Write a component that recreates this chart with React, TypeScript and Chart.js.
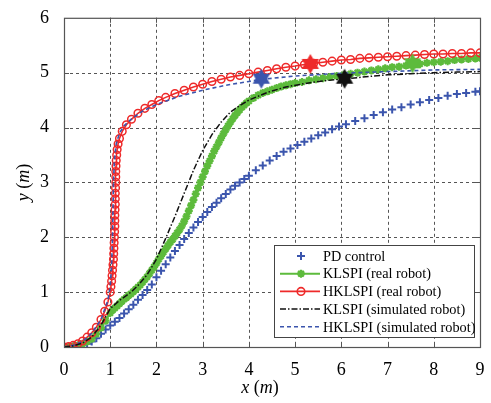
import React, { useEffect, useRef } from "react";
import { Chart, registerables } from "chart.js";
Chart.register(...registerables);

const FONT = "'Liberation Serif', 'Times New Roman', serif";
const X_TICKS = [0, 1, 2, 3, 4, 5, 6, 7, 8, 9];
const Y_TICKS = [0, 1, 2, 3, 4, 5, 6];

const LEGEND_LABELS = [
  "PD control",
  "KLSPI (real robot)",
  "HKLSPI (real robot)",
  "KLSPI (simulated robot)",
  "HKLSPI (simulated robot)",
];

const BLUE = "#3b55ad";
const GREEN = "#5dbb3c";
const RED = "#ee2a2a";
const BLACK = "#111111";

// PD control (blue +, no line)
const PD_X = [0, 0.1, 0.2, 0.3, 0.4, 0.5, 0.6, 0.7, 0.8, 0.9, 1.0, 1.1, 1.2, 1.3, 1.4, 1.5, 1.6, 1.7, 1.8, 1.9, 2.0, 2.1, 2.2, 2.3, 2.4, 2.5, 2.6, 2.7, 2.8, 2.9, 3.0, 3.1, 3.2, 3.3, 3.4, 3.5, 3.6, 3.7, 3.8, 3.9, 4.0, 4.15, 4.3, 4.45, 4.6, 4.75, 4.9, 5.05, 5.2, 5.35, 5.5, 5.65, 5.8, 5.95, 6.1, 6.3, 6.5, 6.7, 6.9, 7.1, 7.3, 7.5, 7.7, 7.9, 8.1, 8.3, 8.5, 8.7, 8.9, 9.0];
const PD_Y = [0, 0.0, 0.01, 0.02, 0.04, 0.06, 0.1, 0.16, 0.24, 0.32, 0.39, 0.46, 0.53, 0.61, 0.69, 0.77, 0.86, 0.95, 1.04, 1.14, 1.27, 1.39, 1.51, 1.63, 1.75, 1.86, 1.97, 2.08, 2.18, 2.28, 2.37, 2.46, 2.55, 2.63, 2.71, 2.79, 2.87, 2.94, 3.0, 3.06, 3.12, 3.22, 3.31, 3.4, 3.48, 3.56, 3.62, 3.68, 3.74, 3.8, 3.86, 3.91, 3.97, 4.02, 4.06, 4.12, 4.17, 4.23, 4.28, 4.33, 4.37, 4.42, 4.46, 4.5, 4.54, 4.58, 4.61, 4.63, 4.65, 4.66];

// KLSPI real robot (green)
const KR_X = [0, 0.1, 0.2, 0.3, 0.4, 0.5, 0.6, 0.7, 0.8, 0.9, 1.0, 1.05, 1.1, 1.15, 1.2, 1.25, 1.3, 1.35, 1.4, 1.45, 1.5, 1.55, 1.6, 1.65, 1.7, 1.75, 1.8, 1.85, 1.9, 1.95, 2.0, 2.05, 2.1, 2.15, 2.2, 2.25, 2.3, 2.35, 2.4, 2.45, 2.5, 2.55, 2.6, 2.65, 2.7, 2.75, 2.8, 2.85, 2.9, 2.95, 3.0, 3.05, 3.1, 3.15, 3.2, 3.25, 3.3, 3.35, 3.4, 3.45, 3.5, 3.55, 3.6, 3.65, 3.7, 3.75, 3.8, 3.85, 3.9, 3.95, 4.0, 4.1, 4.2, 4.3, 4.4, 4.5, 4.6, 4.7, 4.8, 4.9, 5.0, 5.15, 5.3, 5.45, 5.6, 5.75, 5.9, 6.05, 6.2, 6.35, 6.5, 6.65, 6.8, 6.95, 7.1, 7.25, 7.4, 7.55, 7.7, 7.85, 8.0, 8.15, 8.3, 8.45, 8.6, 8.75, 8.9, 9.0];
const KR_Y = [0, 0.0, 0.01, 0.03, 0.06, 0.1, 0.15, 0.24, 0.35, 0.48, 0.62, 0.67, 0.71, 0.75, 0.79, 0.83, 0.87, 0.9, 0.94, 0.97, 1.01, 1.05, 1.09, 1.13, 1.18, 1.23, 1.28, 1.34, 1.4, 1.46, 1.53, 1.6, 1.66, 1.73, 1.79, 1.85, 1.91, 1.96, 2.02, 2.08, 2.14, 2.21, 2.29, 2.38, 2.48, 2.58, 2.68, 2.79, 2.9, 3.0, 3.1, 3.2, 3.3, 3.39, 3.48, 3.57, 3.65, 3.73, 3.81, 3.89, 3.96, 4.03, 4.1, 4.16, 4.22, 4.27, 4.32, 4.37, 4.41, 4.45, 4.48, 4.54, 4.59, 4.63, 4.66, 4.69, 4.72, 4.75, 4.77, 4.79, 4.81, 4.83, 4.86, 4.88, 4.9, 4.92, 4.94, 4.96, 4.98, 5.0, 5.02, 5.04, 5.06, 5.08, 5.1, 5.11, 5.13, 5.15, 5.16, 5.18, 5.19, 5.2, 5.21, 5.23, 5.24, 5.25, 5.26, 5.27];

// HKLSPI real robot (red circles)
const HR_X = [0, 0.1, 0.2, 0.3, 0.4, 0.5, 0.6, 0.7, 0.8, 0.88, 0.95, 1.0, 1.015, 1.03, 1.04, 1.05, 1.06, 1.07, 1.075, 1.08, 1.085, 1.09, 1.095, 1.1, 1.1, 1.1, 1.105, 1.11, 1.11, 1.11, 1.115, 1.12, 1.12, 1.12, 1.125, 1.13, 1.14, 1.15, 1.17, 1.2, 1.26, 1.35, 1.46, 1.6, 1.75, 1.9, 2.05, 2.2, 2.4, 2.6, 2.8, 3.0, 3.2, 3.4, 3.6, 3.8, 4.0, 4.2, 4.4, 4.6, 4.8, 5.0, 5.2, 5.4, 5.6, 5.8, 6.0, 6.2, 6.4, 6.6, 6.8, 7.0, 7.2, 7.4, 7.6, 7.8, 8.0, 8.2, 8.4, 8.6, 8.8, 9.0];
const HR_Y = [0, 0.01, 0.03, 0.06, 0.11, 0.18, 0.26, 0.36, 0.5, 0.65, 0.82, 1.0, 1.1, 1.2, 1.3, 1.4, 1.5, 1.6, 1.7, 1.8, 1.9, 2.0, 2.1, 2.2, 2.3, 2.4, 2.5, 2.6, 2.7, 2.8, 2.9, 3.0, 3.1, 3.2, 3.3, 3.4, 3.5, 3.6, 3.7, 3.8, 3.93, 4.05, 4.15, 4.26, 4.35, 4.42, 4.49, 4.55, 4.62, 4.68, 4.74, 4.79, 4.84, 4.88, 4.92, 4.95, 4.98, 5.01, 5.04, 5.07, 5.1, 5.12, 5.15, 5.17, 5.19, 5.21, 5.23, 5.24, 5.26, 5.27, 5.28, 5.29, 5.3, 5.31, 5.32, 5.33, 5.34, 5.34, 5.35, 5.35, 5.36, 5.36];

// KLSPI simulated robot (black dash-dot)
const KS_X = [0, 0.2, 0.4, 0.6, 0.8, 1.0, 1.2, 1.45, 1.6, 1.8, 2.0, 2.2, 2.4, 2.6, 2.8, 3.0, 3.2, 3.4, 3.6, 3.8, 4.0, 4.4, 4.8, 5.2, 5.6, 6.1, 6.6, 7.0, 7.5, 8.0, 8.5, 9.0];
const KS_Y = [0, 0.02, 0.07, 0.18, 0.4, 0.7, 0.85, 1.0, 1.12, 1.32, 1.6, 1.98, 2.38, 2.8, 3.22, 3.58, 3.87, 4.1, 4.28, 4.4, 4.5, 4.64, 4.74, 4.8, 4.85, 4.89, 4.93, 4.96, 4.98, 5.0, 5.01, 5.02];

// HKLSPI simulated robot (blue dashed)
const HS_X = [0, 0.2, 0.4, 0.6, 0.8, 0.95, 1.0, 1.03, 1.05, 1.06, 1.07, 1.09, 1.13, 1.2, 1.3, 1.45, 1.7, 2.0, 2.5, 3.0, 3.5, 4.0, 4.3, 5.0, 6.0, 7.0, 8.0, 9.0];
const HS_Y = [0, 0.03, 0.1, 0.25, 0.5, 0.85, 1.1, 1.5, 2.0, 2.5, 3.0, 3.4, 3.7, 3.9, 4.03, 4.15, 4.3, 4.42, 4.57, 4.68, 4.77, 4.84, 4.88, 4.94, 4.99, 5.02, 5.05, 5.06];

// Hexagram star markers
const STAR_X = [4.27, 5.33, 6.07, 7.54];
const STAR_Y = [4.89, 5.16, 4.89, 5.17];
const STAR_COLORS = [BLUE, RED, BLACK, GREEN];

const pts = (xs: number[], ys: number[]) => xs.map((x, i) => ({ x, y: ys[i] }));

function hexagram(color: string, r: number) {
  const c = document.createElement("canvas");
  const s = Math.ceil(r * 2 + 2);
  c.width = s;
  c.height = s;
  const g = c.getContext("2d")!;
  const cx = s / 2, cy = s / 2;
  g.fillStyle = color;
  for (const off of [-Math.PI / 2, Math.PI / 2]) {
    g.beginPath();
    for (let k = 0; k < 3; k++) {
      const a = off + (k * 2 * Math.PI) / 3;
      const px = cx + r * Math.cos(a), py = cy + r * Math.sin(a);
      if (k === 0) g.moveTo(px, py); else g.lineTo(px, py);
    }
    g.closePath();
    g.fill();
  }
  return c;
}

function drawMarker(ctx: CanvasRenderingContext2D, kind: string, x: number, y: number, color: string) {
  ctx.save();
  ctx.setLineDash([]);
  ctx.strokeStyle = color;
  if (kind === "cross") {
    ctx.lineWidth = 2;
    ctx.beginPath();
    ctx.moveTo(x - 4, y); ctx.lineTo(x + 4, y);
    ctx.moveTo(x, y - 4); ctx.lineTo(x, y + 4);
    ctx.stroke();
  } else if (kind === "star") {
    ctx.lineWidth = 2.2;
    ctx.beginPath();
    for (let k = 0; k < 4; k++) {
      const a = (k * Math.PI) / 4;
      ctx.moveTo(x - 4 * Math.cos(a), y - 4 * Math.sin(a));
      ctx.lineTo(x + 4 * Math.cos(a), y + 4 * Math.sin(a));
    }
    ctx.stroke();
  } else if (kind === "circle") {
    ctx.lineWidth = 1.6;
    ctx.beginPath();
    ctx.arc(x, y, 3.8, 0, Math.PI * 2);
    ctx.stroke();
  }
  ctx.restore();
}

const LEGEND_STYLE = [
  { line: false, color: BLUE, dash: [] as number[], marker: "cross", width: 0 },
  { line: true, color: GREEN, dash: [] as number[], marker: "star", width: 2 },
  { line: true, color: RED, dash: [] as number[], marker: "circle", width: 1.6 },
  { line: true, color: BLACK, dash: [6, 2, 1.5, 2], marker: "", width: 1.5 },
  { line: true, color: BLUE, dash: [4, 3], marker: "", width: 1.5 },
];

const overlay = {
  id: "overlay",
  beforeDatasetsDraw(chart: any) {
    const { ctx, chartArea: a, scales } = chart;
    const xs = scales.x, ys = scales.y;
    ctx.save();
    ctx.strokeStyle = "#555";
    ctx.lineWidth = 1;
    ctx.setLineDash([3, 3]);
    for (const v of X_TICKS.slice(1, -1)) {
      const px = Math.round(xs.getPixelForValue(v)) + 0.5;
      ctx.beginPath(); ctx.moveTo(px, a.top); ctx.lineTo(px, a.bottom); ctx.stroke();
    }
    for (const v of Y_TICKS.slice(1, -1)) {
      const py = Math.round(ys.getPixelForValue(v)) + 0.5;
      ctx.beginPath(); ctx.moveTo(a.left, py); ctx.lineTo(a.right, py); ctx.stroke();
    }
    ctx.restore();
  },
  afterDatasetsDraw(chart: any) {
    const { ctx, chartArea: a } = chart;
    const left = a.right - 206, top = a.bottom - 102, w = 200, h = 92;
    ctx.save();
    ctx.fillStyle = "#fff";
    ctx.fillRect(left, top, w, h);
    ctx.strokeStyle = "#444";
    ctx.lineWidth = 1;
    ctx.setLineDash([]);
    ctx.strokeRect(left + 0.5, top + 0.5, w, h);
    ctx.font = `14.3px ${FONT}`;
    ctx.textBaseline = "middle";
    ctx.textAlign = "left";
    LEGEND_LABELS.forEach((label, i) => {
      const st = LEGEND_STYLE[i];
      const y = top + 11 + i * 17.7;
      if (st.line) {
        ctx.save();
        ctx.strokeStyle = st.color;
        ctx.lineWidth = st.width;
        ctx.setLineDash(st.dash);
        ctx.beginPath(); ctx.moveTo(left + 6, y); ctx.lineTo(left + 46, y); ctx.stroke();
        ctx.restore();
      }
      if (st.marker) drawMarker(ctx, st.marker, left + 27, y, st.color);
      ctx.fillStyle = "#000";
      ctx.fillText(label, left + 49, y + 1);
    });
    ctx.restore();
  },
  afterDraw(chart: any) {
    const { ctx, chartArea: a, scales } = chart;
    const xs = scales.x, ys = scales.y;
    ctx.save();
    ctx.setLineDash([]);
    ctx.strokeStyle = "#555";
    ctx.lineWidth = 1.2;
    ctx.strokeRect(a.left + 0.5, a.top + 0.5, a.right - a.left, a.bottom - a.top);
    ctx.lineWidth = 1;
    for (const v of X_TICKS.slice(1, -1)) {
      const px = Math.round(xs.getPixelForValue(v)) + 0.5;
      ctx.beginPath();
      ctx.moveTo(px, a.bottom); ctx.lineTo(px, a.bottom - 5);
      ctx.moveTo(px, a.top); ctx.lineTo(px, a.top + 5);
      ctx.stroke();
    }
    for (const v of Y_TICKS.slice(1, -1)) {
      const py = Math.round(ys.getPixelForValue(v)) + 0.5;
      ctx.beginPath();
      ctx.moveTo(a.left, py); ctx.lineTo(a.left + 5, py);
      ctx.moveTo(a.right, py); ctx.lineTo(a.right - 5, py);
      ctx.stroke();
    }
    // axis titles: italic variable, upright parentheses
    const parts = (v: string) => [
      { t: v, it: true },
      { t: " (", it: false },
      { t: "m", it: true },
      { t: ")", it: false },
    ];
    const drawTitle = (v: string, cx: number, cy: number, rot: number) => {
      ctx.save();
      ctx.translate(cx, cy);
      ctx.rotate(rot);
      ctx.fillStyle = "#000";
      ctx.textBaseline = "middle";
      ctx.textAlign = "left";
      const ps = parts(v);
      let total = 0;
      for (const p of ps) {
        ctx.font = `${p.it ? "italic " : ""}18px ${FONT}`;
        total += ctx.measureText(p.t).width;
      }
      let x = -total / 2;
      for (const p of ps) {
        ctx.font = `${p.it ? "italic " : ""}18px ${FONT}`;
        ctx.fillText(p.t, x, 0);
        x += ctx.measureText(p.t).width;
      }
      ctx.restore();
    };
    drawTitle("x", (a.left + a.right) / 2 - 12, 388, 0);
    drawTitle("y", 24, (a.top + a.bottom) / 2, -Math.PI / 2);
    ctx.restore();
  },
};

export default function App() {
  const ref = useRef<HTMLCanvasElement | null>(null);
  useEffect(() => {
    if (!ref.current) return;
    const starImgs = STAR_COLORS.map((c) => hexagram(c, 10));
    const chart = new Chart(ref.current, {
      type: "scatter",
      data: {
        datasets: [
          {
            label: "stars",
            data: pts(STAR_X, STAR_Y),
            pointStyle: starImgs as any,
            pointRadius: 10,
            showLine: false,
            order: 0,
          },
          {
            label: LEGEND_LABELS[3],
            data: pts(KS_X, KS_Y),
            showLine: true,
            borderColor: BLACK,
            borderWidth: 1.5,
            borderDash: [6, 2, 1.5, 2],
            pointRadius: 0,
            order: 1,
          },
          {
            label: LEGEND_LABELS[4],
            data: pts(HS_X, HS_Y),
            showLine: true,
            borderColor: BLUE,
            borderWidth: 1.6,
            borderDash: [4, 3],
            pointRadius: 0,
            order: 2,
          },
          {
            label: LEGEND_LABELS[2],
            data: pts(HR_X, HR_Y),
            showLine: true,
            borderColor: RED,
            borderWidth: 1.6,
            pointStyle: "circle",
            pointRadius: 3.8,
            pointBorderWidth: 1.5,
            pointBorderColor: RED,
            pointBackgroundColor: "rgba(255,255,255,0)",
            order: 3,
          },
          {
            label: LEGEND_LABELS[1],
            data: pts(KR_X, KR_Y),
            showLine: true,
            borderColor: GREEN,
            borderWidth: 2.2,
            pointStyle: "star",
            pointRadius: 4,
            pointBorderWidth: 2.2,
            pointBorderColor: GREEN,
            pointBackgroundColor: GREEN,
            order: 4,
          },
          {
            label: LEGEND_LABELS[0],
            data: pts(PD_X, PD_Y),
            showLine: false,
            pointStyle: "cross",
            pointRadius: 4,
            pointBorderWidth: 2,
            pointBorderColor: BLUE,
            order: 5,
          },
        ],
      },
      options: {
        responsive: false,
        animation: false,
        devicePixelRatio: 1,
        layout: { padding: { top: 13, right: 3, left: 0, bottom: 0 } },
        plugins: { legend: { display: false }, tooltip: { enabled: false } },
        scales: {
          x: {
            type: "linear",
            min: 0,
            max: 9,
            grid: { display: false },
            border: { display: false },
            afterFit: (s: any) => { s.height = 56; },
            afterBuildTicks: (s: any) => { s.ticks = X_TICKS.map((v) => ({ value: v })); },
            ticks: {
              color: "#000",
              padding: 4,
              font: { family: FONT, size: 18 },
              maxRotation: 0,
            },
          },
          y: {
            type: "linear",
            min: 0,
            max: 6,
            grid: { display: false },
            border: { display: false },
            afterFit: (s: any) => { s.width = 64; },
            afterBuildTicks: (s: any) => { s.ticks = Y_TICKS.map((v) => ({ value: v })); },
            ticks: {
              color: "#000",
              padding: 7,
              font: { family: FONT, size: 18 },
            },
          },
        },
      },
      plugins: [overlay],
    });
    return () => chart.destroy();
  }, []);
  return (
    <div style={{ position: "absolute", left: 0, top: 0, width: 491, height: 403, background: "#fff" }}>
      <canvas ref={ref} width={491} height={403} style={{ width: 491, height: 403, display: "block" }} />
    </div>
  );
}
